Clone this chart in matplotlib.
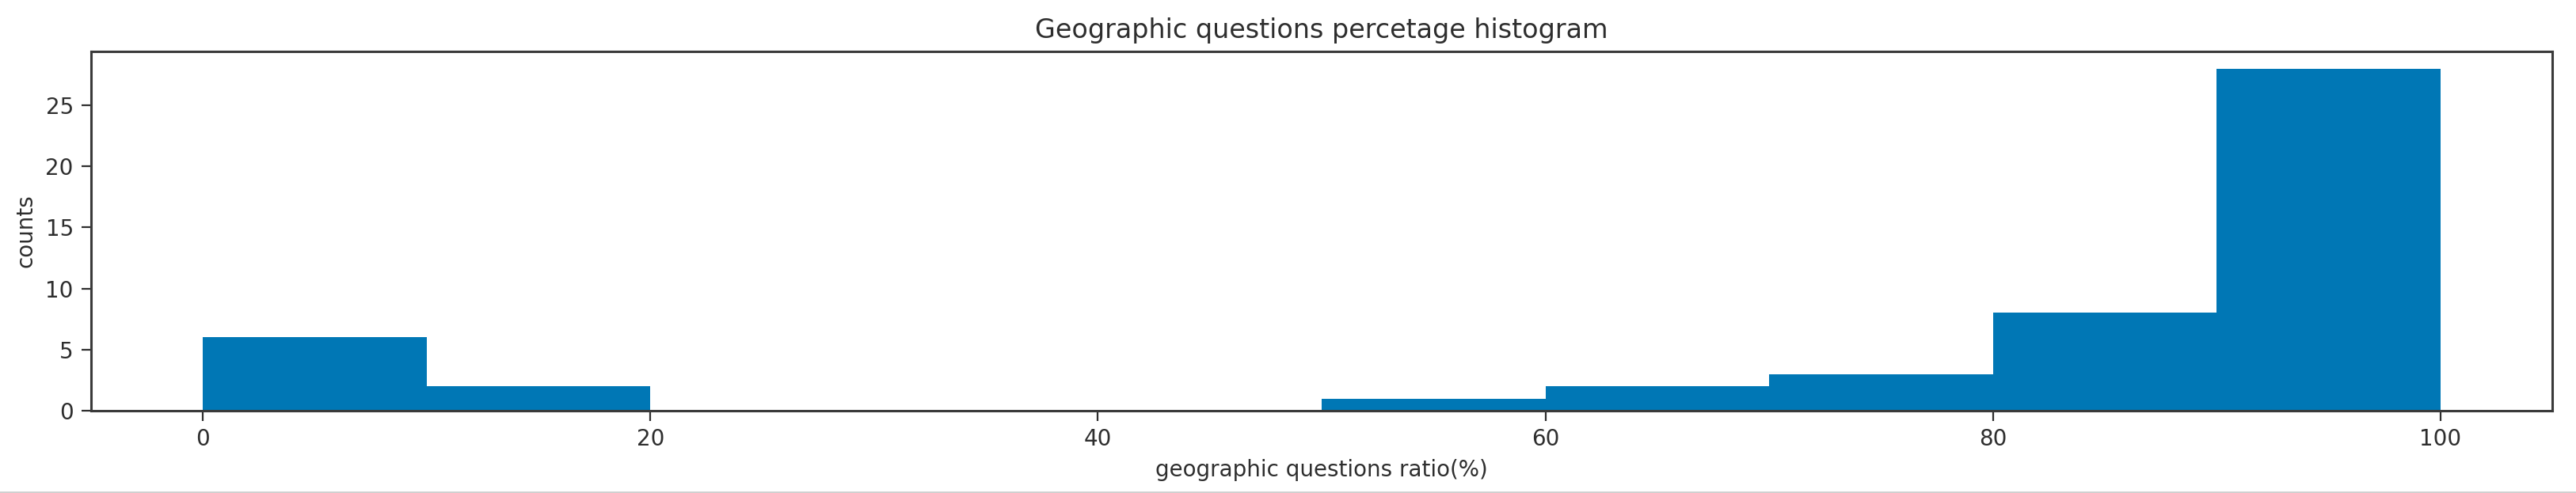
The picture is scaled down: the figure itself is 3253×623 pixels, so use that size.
import numpy as np
import matplotlib
matplotlib.use('Agg')
import matplotlib.pyplot as plt
from matplotlib.lines import Line2D

# bin edges and counts
bin_edges = [0, 10, 20, 30, 40, 50, 60, 70, 80, 90, 100]
counts = [6, 2, 0, 0, 0, 1, 2, 3, 8, 28]

title = 'Geographic questions percetage histogram'
x_label = 'geographic questions ratio(%)'
y_label = 'counts'

text_color = '#2e2e2e'
plt.rcParams['font.family'] = ['DejaVu Sans']
plt.rcParams['text.color'] = text_color
plt.rcParams['axes.labelcolor'] = text_color
plt.rcParams['xtick.color'] = text_color
plt.rcParams['ytick.color'] = text_color

fig = plt.figure(figsize=(32.53, 6.23), dpi=100)
ax = fig.add_axes([115 / 3253, 1 - 519 / 623, (3223 - 115) / 3253, (519 - 65) / 623])

ax.hist(bin_edges[:-1], bins=bin_edges, weights=counts, color='#0077b5')

ax.set_xlim(-5, 105)
ax.set_ylim(0, max(counts) * 1.05)
ax.set_xticks([0, 20, 40, 60, 80, 100])
ax.set_yticks([0, 5, 10, 15, 20, 25])

ax.set_title(title, fontsize=24, pad=12)
ax.set_xlabel(x_label, fontsize=20, labelpad=8)
ax.set_ylabel(y_label, fontsize=20, labelpad=8)
ax.tick_params(labelsize=20, length=9, width=1.6, pad=7)
for s in ax.spines.values():
    s.set_linewidth(2.2)
    s.set_color('#3a3a3a')

# thin grey separator at the bottom of the screenshot
fig.add_artist(Line2D([0, 1], [0.002, 0.002], transform=fig.transFigure,
                      color='#cfcfcf', linewidth=2))

fig.savefig('out.png', dpi=100)
